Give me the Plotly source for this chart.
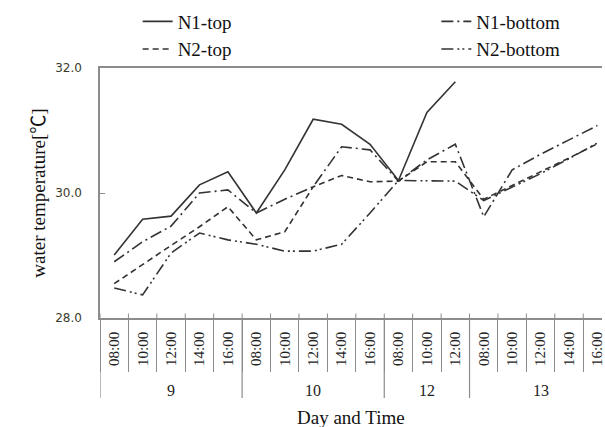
import plotly.graph_objects as go

days = ["9", "10", "12", "13"]
day_sizes = [5, 5, 3, 5]
times = ["08:00", "10:00", "12:00", "14:00", "16:00",
         "08:00", "10:00", "12:00", "14:00", "16:00",
         "08:00", "10:00", "12:00",
         "08:00", "10:00", "12:00", "14:00", "16:00"]

n1_top = [29.01, 29.58, 29.63, 30.13, 30.34, 29.68, 30.37, 31.18, 31.10, 30.78, 30.20, 31.29, 31.78]
n1_bottom = [28.90, 29.22, 29.47, 30.00, 30.05, 29.68, 29.90, 30.10, 30.74, 30.69, 30.19, 30.53, 30.78,
             29.62, 30.37, 30.62, 30.85, 31.08]
n2_top = [28.55, 28.86, 29.16, 29.46, 29.78, 29.25, 29.38, 30.10, 30.28, 30.18, 30.19, 30.50, 30.50,
          29.90, 30.12, 30.33, 30.56, 30.79]
n2_bottom = [28.48, 28.37, 29.04, 29.36, 29.25, 29.18, 29.07, 29.07, 29.18, 29.68, 30.20, 30.20, 30.19,
             29.88, 30.10, 30.31, 30.55, 30.80]

y_ticks = [28.0, 30.0, 32.0]

idx = list(range(len(times)))
LINE = "#333333"
SERIF = "Liberation Serif"

fig = go.Figure()
fig.add_trace(go.Scatter(x=idx[:len(n1_top)], y=n1_top, mode="lines", name="N1-top",
                         line=dict(color=LINE, width=1.6), legend="legend", legendgroup="a"))
fig.add_trace(go.Scatter(x=idx, y=n2_top, mode="lines", name="N2-top",
                         line=dict(color=LINE, width=1.6, dash="6px,4px"), legend="legend", legendgroup="b"))
fig.add_trace(go.Scatter(x=idx, y=n1_bottom, mode="lines", name="N1-bottom",
                         line=dict(color=LINE, width=1.6, dash="12px,4px,2px,4px"), legend="legend2", legendgroup="c"))
fig.add_trace(go.Scatter(x=idx, y=n2_bottom, mode="lines", name="N2-bottom",
                         line=dict(color=LINE, width=1.6, dash="12px,4px,2px,3px,2px,4px"), legend="legend2", legendgroup="d"))

# day separators and group labels
bounds = [-0.5]
for s in day_sizes:
    bounds.append(bounds[-1] + s)
shapes = []
for b in bounds:
    shapes.append(dict(type="line", xref="x", yref="paper", x0=b, x1=b, y0=0, y1=-0.32,
                       line=dict(color="#8c8c8c", width=1.2)))
for k in range(len(times) + 1):
    b = k - 0.5
    shapes.append(dict(type="line", xref="x", yref="paper", x0=b, x1=b, y0=0, y1=0.018,
                       line=dict(color="#8c8c8c", width=1)))
annotations = []
for d, lo, hi in zip(days, bounds[:-1], bounds[1:]):
    annotations.append(dict(text=d, x=(lo + hi) / 2, xref="x", y=-0.288, yref="paper",
                            yanchor="middle", showarrow=False,
                            font=dict(family=SERIF, size=16, color="#222")))
annotations.append(dict(text="Day and Time", x=0.5, xref="paper", y=-0.396, yref="paper",
                        yanchor="middle", showarrow=False,
                        font=dict(family=SERIF, size=19, color="#111")))
annotations.append(dict(text="water temperature[℃]", x=-0.149, xref="paper", y=0.5, yref="paper",
                        textangle=-90, showarrow=False,
                        font=dict(family="Liberation Serif, Noto Sans CJK JP", size=19, color="#111")))

fig.update_layout(
    width=605, height=427,
    margin=dict(l=100, r=0, t=68, b=109),
    plot_bgcolor="white", paper_bgcolor="white",
    shapes=shapes, annotations=annotations,
    legend=dict(x=0.075, y=1.262, xanchor="left", yanchor="top", bgcolor="rgba(0,0,0,0)",
                font=dict(family=SERIF, size=19, color="#111"), tracegroupgap=0),
    legend2=dict(x=0.67, y=1.262, xanchor="left", yanchor="top", bgcolor="rgba(0,0,0,0)",
                 font=dict(family=SERIF, size=19, color="#111"), tracegroupgap=0),
    xaxis=dict(range=[-0.5, 17.16], tickmode="array", tickvals=idx, ticktext=times,
               tickangle=-90, ticks="", showgrid=False, zeroline=False,
               showline=True, linecolor="#8c8c8c", linewidth=1.5, mirror=True,
               tickfont=dict(family=SERIF, size=15, color="#222"), ticklabelstandoff=6,
               ticklabeloverflow="allow",
               minor=dict(tick0=-0.5, dtick=1, ticks="outside", ticklen=52,
                          tickcolor="#8c8c8c", tickwidth=1, showgrid=False)),
    yaxis=dict(range=[28, 32], tickmode="array", tickvals=y_ticks,
               ticktext=[f"{v:.1f}" for v in y_ticks], ticks="inside", ticklen=5,
               tickcolor="#8c8c8c", showgrid=False, zeroline=False,
               showline=True, linecolor="#8c8c8c", linewidth=1.5,
               tickfont=dict(family="DejaVu Sans", size=12, color="#3a3a2a"), ticklabelstandoff=14),
)

fig.write_html("out.html")
